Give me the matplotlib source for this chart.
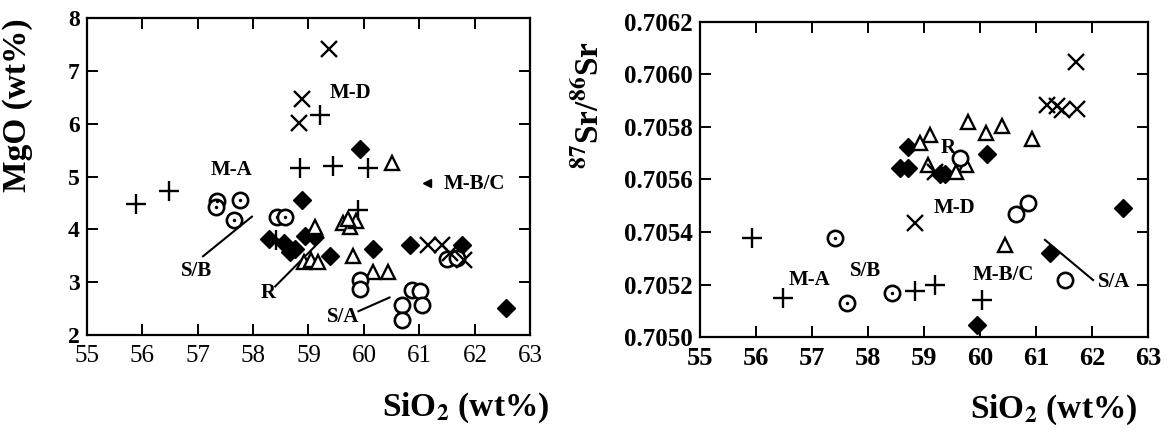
import matplotlib
matplotlib.use("Agg")
import matplotlib.pyplot as plt

plt.rcParams['font.family'] = ['Liberation Serif', 'DejaVu Serif']
plt.rcParams['mathtext.fontset'] = 'stix'

# ---------------- Left panel: MgO vs SiO2 ----------------
mgo_plus_x = [55.9, 56.49, 58.85, 59.45, 60.08, 59.9, 58.41, 59.21]
mgo_plus_y = [4.48, 4.72, 5.17, 5.20, 5.17, 4.37, 3.80, 6.17]

mgo_cross_x = [59.37, 58.88, 58.83, 61.15, 61.4, 61.55, 61.8]
mgo_cross_y = [7.41, 6.46, 6.01, 3.70, 3.70, 3.55, 3.42]

mgo_diam_x = [59.92, 58.89, 58.28, 58.55, 58.67, 58.75, 58.94, 59.10, 59.39, 60.17, 60.83, 61.76, 62.56]
mgo_diam_y = [5.52, 4.56, 3.82, 3.74, 3.57, 3.62, 3.87, 3.88, 3.50, 3.63, 3.71, 3.71, 2.51]

mgo_tri_x = [60.5, 59.62, 59.75, 59.85, 59.72, 59.12, 58.92, 59.05, 59.17, 59.81, 60.17, 60.44]
mgo_tri_y = [5.25, 4.12, 4.05, 4.15, 4.20, 4.05, 3.39, 3.42, 3.39, 3.49, 3.20, 3.20]

mgo_circ_x = [59.93, 59.93, 60.86, 61.01, 60.68, 60.68, 61.04, 61.49, 61.67]
mgo_circ_y = [3.05, 2.87, 2.86, 2.83, 2.57, 2.29, 2.57, 3.43, 3.45]

mgo_dot_x = [57.35, 57.33, 57.77, 57.65, 58.43, 58.58]
mgo_dot_y = [4.53, 4.43, 4.56, 4.18, 4.24, 4.24]

mgo_half_x = [61.13]
mgo_half_y = [4.87]

# ---------------- Right panel: 87Sr/86Sr vs SiO2 ----------------
sr_plus_x = [55.92, 56.48, 58.84, 59.20, 60.03]
sr_plus_y = [0.705376, 0.705148, 0.705175, 0.705198, 0.705141]

sr_cross_x = [61.71, 61.19, 61.37, 61.46, 61.73, 58.84, 59.20]
sr_cross_y = [0.706049, 0.705884, 0.705880, 0.705865, 0.705868, 0.705433, 0.705630]

sr_diam_x = [58.72, 58.57, 58.72, 59.29, 59.38, 60.13, 62.56, 61.25, 59.94]
sr_diam_y = [0.705725, 0.705643, 0.705643, 0.705620, 0.705621, 0.705697, 0.705490, 0.705319, 0.705046]

sr_tri_x = [59.11, 58.93, 59.79, 60.11, 60.39, 60.93, 59.08, 59.66, 59.75, 59.58, 60.45]
sr_tri_y = [0.705770, 0.705738, 0.705820, 0.705778, 0.705804, 0.705753, 0.705655, 0.705660, 0.705655, 0.705630, 0.705350]

sr_circ_x = [59.65, 60.65, 60.85, 61.52]
sr_circ_y = [0.705680, 0.705470, 0.705510, 0.705217]

sr_dot_x = [57.41, 57.62, 58.42]
sr_dot_y = [0.705376, 0.705128, 0.705168]

xticks = [55, 56, 57, 58, 59, 60, 61, 62, 63]
mgo_ticks = [2, 3, 4, 5, 6, 7, 8]
sr_ticks = [0.7050, 0.7052, 0.7054, 0.7056, 0.7058, 0.7060, 0.7062]
sr_ticklabels = ['0.7050', '0.7052', '0.7054', '0.7056', '0.7058', '0.7060', '0.7062']

fig = plt.figure(figsize=(11.69, 4.37), dpi=100)
axL = fig.add_axes([0.074, 0.2334, 0.3798, 0.7254])
axR = fig.add_axes([0.5988, 0.2288, 0.3832, 0.7209])

K = 'black'


def draw(ax, px, py, cx, cy, dx, dy, tx, ty, ox, oy, sx, sy):
    ax.plot(px, py, ls='none', marker='+', ms=15, mew=1.7, color=K, zorder=4)
    ax.plot(cx, cy, ls='none', marker='x', ms=12, mew=1.7, color=K, zorder=4)
    ax.plot(dx, dy, ls='none', marker='D', ms=9, mew=1.0, color=K, mfc=K, zorder=3)
    ax.plot(tx, ty, ls='none', marker='^', ms=9.5, mew=1.7, color=K, mfc='white', zorder=3)
    ax.plot(ox, oy, ls='none', marker='o', ms=11, mew=1.9, color=K, mfc='white', zorder=3)
    ax.plot(sx, sy, ls='none', marker='o', ms=11, mew=1.9, color=K, mfc='white', zorder=3)
    ax.plot(sx, sy, ls='none', marker='o', ms=2.5, mew=0, color=K, zorder=4)


def style(ax, xsize, ysize):
    ax.set_xlim(55, 63)
    ax.set_xticks(xticks)
    for s in ax.spines.values():
        s.set_linewidth(1.6)
    ax.tick_params(direction='in', length=8, width=1.4, top=True, right=True, pad=7)
    ax.tick_params(axis='x', labelsize=xsize)
    ax.tick_params(axis='y', labelsize=ysize, pad=5)


draw(axL, mgo_plus_x, mgo_plus_y, mgo_cross_x, mgo_cross_y, mgo_diam_x, mgo_diam_y,
     mgo_tri_x, mgo_tri_y, mgo_circ_x, mgo_circ_y, mgo_dot_x, mgo_dot_y)
axL.plot(mgo_half_x, mgo_half_y, ls='none', marker='<', ms=6, color=K, zorder=4)
style(axL, 18, 17)
axL.set_ylim(2, 8)
axL.set_yticks(mgo_ticks)
for lab in axL.get_yticklabels():
    lab.set_fontweight('bold')
axL.set_ylabel('MgO (wt%)', fontsize=24, fontweight='bold')
axL.yaxis.set_label_coords(-0.12, 0.726)
axL.text(0.855, -0.23, 'SiO$_{\\mathbf{2}}$ (wt%)', transform=axL.transAxes,
         ha='center', va='center', fontsize=24, fontweight='bold')

lab_kw = dict(fontsize=15, fontweight='bold', ha='center', va='center', zorder=5)
axL.text(57.62, 5.13, 'M-A', **lab_kw)
axL.text(59.75, 6.58, 'M-D', **lab_kw)
axL.text(61.98, 4.86, 'M-B/C', **lab_kw)
axL.text(56.98, 3.22, 'S/B', **lab_kw)
axL.text(58.28, 2.80, 'R', **lab_kw)
axL.text(59.62, 2.35, 'S/A', **lab_kw)
ln = dict(color=K, lw=1.5)
axL.plot([57.1, 57.98], [3.49, 4.24], **ln)
axL.plot([58.4, 59.27], [2.92, 3.84], **ln)
axL.plot([59.9, 60.46], [2.45, 2.71], **ln)

draw(axR, sr_plus_x, sr_plus_y, sr_cross_x, sr_cross_y, sr_diam_x, sr_diam_y,
     sr_tri_x, sr_tri_y, sr_circ_x, sr_circ_y, sr_dot_x, sr_dot_y)
style(axR, 19, 18)
axR.set_ylim(0.7050, 0.7062)
axR.set_yticks(sr_ticks)
axR.set_yticklabels(sr_ticklabels)
for lab in axR.get_yticklabels() + axR.get_xticklabels():
    lab.set_fontweight('bold')
axR.set_ylabel('$^{\\mathbf{87}}$Sr/$^{\\mathbf{86}}$Sr', fontsize=24, fontweight='bold')
axR.yaxis.set_label_coords(-0.21, 0.735)
axR.text(0.79, -0.23, 'SiO$_{\\mathbf{2}}$ (wt%)', transform=axR.transAxes,
         ha='center', va='center', fontsize=24, fontweight='bold')

axR.text(56.96, 0.705217, 'M-A', **lab_kw)
axR.text(57.95, 0.705250, 'S/B', **lab_kw)
axR.text(59.55, 0.705490, 'M-D', **lab_kw)
axR.text(59.43, 0.705719, 'R', **lab_kw)
axR.text(60.42, 0.705236, 'M-B/C', **lab_kw)
axR.text(62.40, 0.705210, 'S/A', **lab_kw)
axR.plot([61.16, 62.02], [0.705370, 0.705217], **ln)

fig.savefig('out.png', dpi=100)
